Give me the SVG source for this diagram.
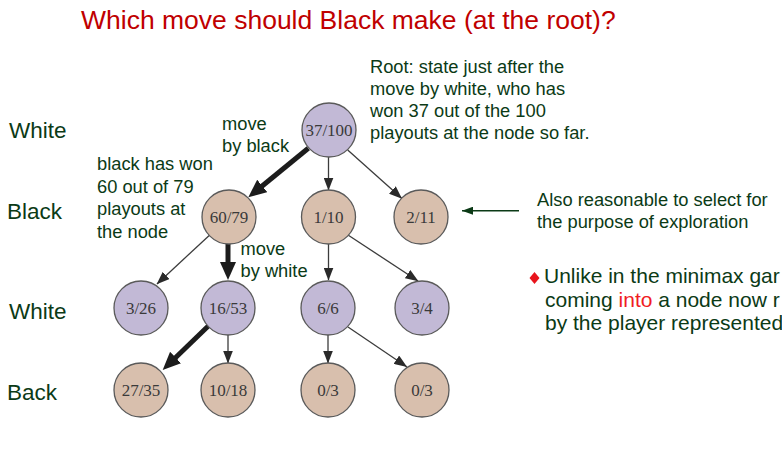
<svg xmlns="http://www.w3.org/2000/svg" width="782" height="449" viewBox="0 0 782 449">
  <style>
    .title { font-family: "Liberation Sans", Arial, sans-serif; font-size: 26.5px; fill: #c00000; }
    .note { font-family: "Liberation Sans", Arial, sans-serif; font-size: 18.3px; fill: #0b3a16; }
    .level { font-family: "Liberation Sans", Arial, sans-serif; font-size: 22.5px; fill: #0b3a16; }
    .bullet { font-family: "Liberation Sans", Arial, sans-serif; font-size: 21px; fill: #0b3a16; }
    .hot { fill: #f01c24; }
    .w { fill: #c2b9d6; stroke: #5a5a5a; stroke-width: 1.3; }
    .b { fill: #d8bfad; stroke: #5a5a5a; stroke-width: 1.3; }
    .lbl { font-family: "Liberation Serif", "Times New Roman", serif; font-size: 17px; fill: #3a3a3a; text-anchor: middle; }
    .thin { stroke: #3c3c3c; stroke-width: 1.3; fill: none; marker-end: url(#headThin); }
    .thick { stroke: #1c1c1c; stroke-width: 5; fill: none; marker-end: url(#headThick); }
  </style>
  <defs>
    <marker id="headThin" markerUnits="userSpaceOnUse" markerWidth="13" markerHeight="10" refX="12.5" refY="5" orient="auto">
      <path d="M0,0 L13,5 L0,10 z" fill="#2a2a2a"/>
    </marker>
    <marker id="headThick" markerUnits="userSpaceOnUse" markerWidth="19" markerHeight="16" refX="6" refY="8" orient="auto">
      <path d="M0,0 L18,8 L0,16 z" fill="#1c1c1c"/>
    </marker>
    <marker id="headNote" markerUnits="userSpaceOnUse" markerWidth="12" markerHeight="8" refX="11" refY="4" orient="auto">
      <path d="M0,0 L11,4 L0,8 z" fill="#0b3a16"/>
    </marker>
  </defs>

  <text class="title" x="81" y="28.5">Which move should Black make (at the root)?</text>

  <!-- level labels -->
  <text class="level" x="9" y="138">White</text>
  <text class="level" x="7" y="219">Black</text>
  <text class="level" x="9" y="319">White</text>
  <text class="level" x="7" y="400">Back</text>

  <!-- connectors -->
  <g id="edges">
    <line class="thick" x1="308.3" y1="148.3" x2="257.6" y2="189.7"/>
    <line class="thin" x1="328.5" y1="157" x2="328.5" y2="190"/>
    <line class="thin" x1="347.7" y1="150" x2="401.7" y2="198.3"/>
    <line class="thin" x1="209.2" y1="235.4" x2="157" y2="284"/>
    <line class="thick" x1="228" y1="244" x2="228" y2="268"/>
    <line class="thin" x1="328.5" y1="244" x2="328.5" y2="280"/>
    <line class="thin" x1="348" y1="235" x2="418" y2="281"/>
    <line class="thick" x1="208.3" y1="326" x2="171.3" y2="361.7"/>
    <line class="thin" x1="228" y1="335" x2="228" y2="363"/>
    <line class="thin" x1="328" y1="335" x2="328" y2="363"/>
    <line class="thin" x1="348" y1="327" x2="406.7" y2="366.7"/>
  </g>

  <!-- tree nodes -->
  <g id="n-root"><circle class="w" cx="329" cy="130" r="27"/><text class="lbl" x="329" y="136">37/100</text></g>
  <g id="n-a"><circle class="b" cx="229" cy="217" r="27"/><text class="lbl" x="229" y="223">60/79</text></g>
  <g id="n-b"><circle class="b" cx="328.5" cy="217" r="27"/><text class="lbl" x="328.5" y="223">1/10</text></g>
  <g id="n-c"><circle class="b" cx="421" cy="217" r="27"/><text class="lbl" x="421" y="223">2/11</text></g>
  <g id="n-d"><circle class="w" cx="141" cy="308" r="27"/><text class="lbl" x="141" y="314">3/26</text></g>
  <g id="n-e"><circle class="w" cx="228" cy="308" r="27"/><text class="lbl" x="228" y="314">16/53</text></g>
  <g id="n-f"><circle class="w" cx="328" cy="308" r="27"/><text class="lbl" x="328" y="314">6/6</text></g>
  <g id="n-g"><circle class="w" cx="422" cy="308" r="27"/><text class="lbl" x="422" y="314">3/4</text></g>
  <g id="n-h"><circle class="b" cx="141" cy="390" r="27"/><text class="lbl" x="141" y="396">27/35</text></g>
  <g id="n-i"><circle class="b" cx="228" cy="390" r="27"/><text class="lbl" x="228" y="396">10/18</text></g>
  <g id="n-j"><circle class="b" cx="328" cy="390" r="27"/><text class="lbl" x="328" y="396">0/3</text></g>
  <g id="n-k"><circle class="b" cx="422" cy="390" r="27"/><text class="lbl" x="422" y="396">0/3</text></g>

  <!-- annotations -->
  <text class="note" x="370">
    <tspan x="370" y="72.5">Root: state just after the</tspan>
    <tspan x="370" y="94.5">move by white, who has</tspan>
    <tspan x="370" y="116.5">won 37 out of the 100</tspan>
    <tspan x="370" y="138.5">playouts at the node so far.</tspan>
  </text>
  <text class="note">
    <tspan x="222" y="129.5">move</tspan>
    <tspan x="222" y="151.5">by black</tspan>
  </text>
  <text class="note">
    <tspan x="97" y="170">black has won</tspan>
    <tspan x="97" y="192.5">60 out of 79</tspan>
    <tspan x="97" y="215">playouts at</tspan>
    <tspan x="97" y="237.5">the node</tspan>
  </text>
  <text class="note">
    <tspan x="240.5" y="255">move</tspan>
    <tspan x="240.5" y="276.5">by white</tspan>
  </text>
  <text class="note">
    <tspan x="537" y="206">Also reasonable to select for</tspan>
    <tspan x="537" y="228">the purpose of exploration</tspan>
  </text>
  <line x1="519" y1="210.7" x2="462" y2="210.7" stroke="#0b3a16" stroke-width="1.4" marker-end="url(#headNote)"/>

  <!-- bullet point, running past the right edge -->
  <path d="M534.5,272 L539.5,278 L534.5,284 L529.5,278 z" fill="#e8141c"/>
  <text class="bullet">
    <tspan x="544" y="283">Unlike in the minimax gar</tspan>
    <tspan x="545" y="306.5">coming <tspan class="hot">into</tspan> a node now r</tspan>
    <tspan x="545" y="329.5">by the player represented</tspan>
  </text>
</svg>
